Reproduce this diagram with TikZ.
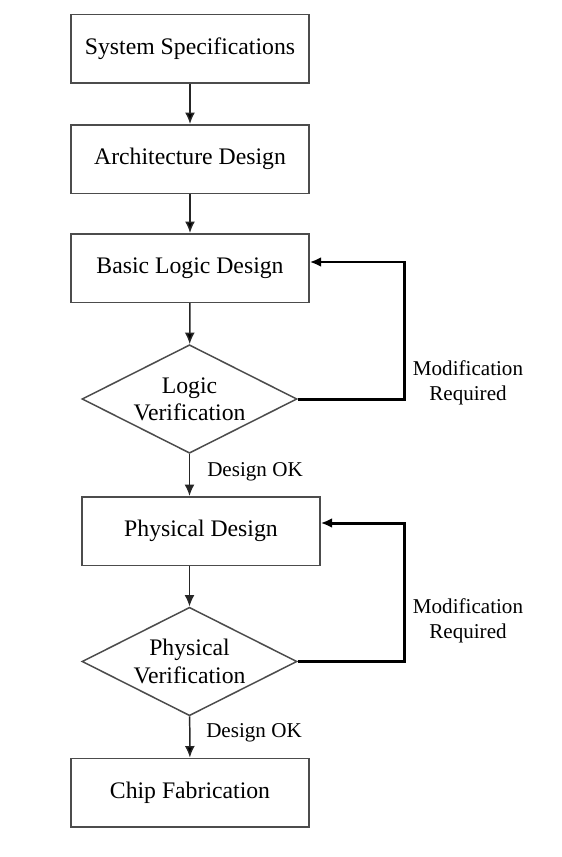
\documentclass[tikz,border=0pt]{standalone}
\usepackage{fontspec}
\setmainfont{Liberation Serif}
\usetikzlibrary{arrows.meta,shapes.geometric,positioning,calc}
\tikzset{
    step box/.style = {rectangle,
                    fill=white,
                    draw=black!70,
                    text=black,
                    line width=0.85pt,
                    minimum width=4.76cm,
                    minimum height=1.37cm,
                    font=\fontsize{13.5}{16}\selectfont},
    check/.style = {diamond,
                    aspect=2,
                    fill=white,
                    draw=black!70,
                    text=black,
                    line width=0.85pt,
                    inner sep=0pt,
                    align=center,
                    minimum width=4.3cm,
                    minimum height=2.17cm,
                    font=\fontsize{13.5}{15.5}\selectfont},
    note/.style =   {text=black,
                    align=center,
                    inner sep=0pt,
                    font=\fontsize{12}{14.5}\selectfont},
    -,
    flow/.style =   {draw=black!85,
                    line width=0.85pt},
    back/.style =   {draw=black,
                    line width=1.7pt},
    >={Latex[length=2.3mm,width=2mm]}}

\begin{document}
\begin{tikzpicture}
                \useasboundingbox (0,0) rectangle (11.22,-17.14);
                \node[step box]     (spec)  at (3.80,-0.97)     {System Specifications};
                \node[step box]     (arch)  at (3.80,-3.18)     {Architecture Design};
                \node[step box]     (basic) at (3.80,-5.36)     {Basic Logic Design};
                \node[check]        (logic) at (3.79,-7.98)     {Logic\\Verification};
                \node[step box]     (phys)  at (4.02,-10.62)    {Physical Design};
                \node[check]        (pver)  at (3.79,-13.23)    {Physical\\Verification};
                \node[step box]     (chip)  at (3.80,-15.85)    {Chip Fabrication};
                % labels
                \node[note]         (ok1)   at (5.10,-9.44)     {Design OK};
                \node[note]         (ok2)   at (5.08,-14.66)    {Design OK};
                \node[note]         (mod1)  at (9.36,-7.66)     {Modification\\Required};
                \node[note]         (mod2)  at (9.36,-12.42)    {Modification\\Required};
                \coordinate         (fb1)   at (8.09,-5.24);
                \coordinate         (fb2)   at (8.09,-10.46);
                \path [flow,->]     (spec)  edge []     (arch)
                                    (arch)  edge []     (basic)
                                    (basic) edge []     (logic)
                                    (pver)  edge []     (chip);
                \draw [flow,->] (logic.south) -- (logic.south |- phys.north);
                \draw [flow,->] (pver.north |- phys.south) -- (pver.north);
                \draw [back,->] (logic.east) -| (fb1) -- (fb1 -| basic.east);
                \draw [back,->] (pver.east) -| (fb2) -- (fb2 -| phys.east);
        \end{tikzpicture}
\end{document}
